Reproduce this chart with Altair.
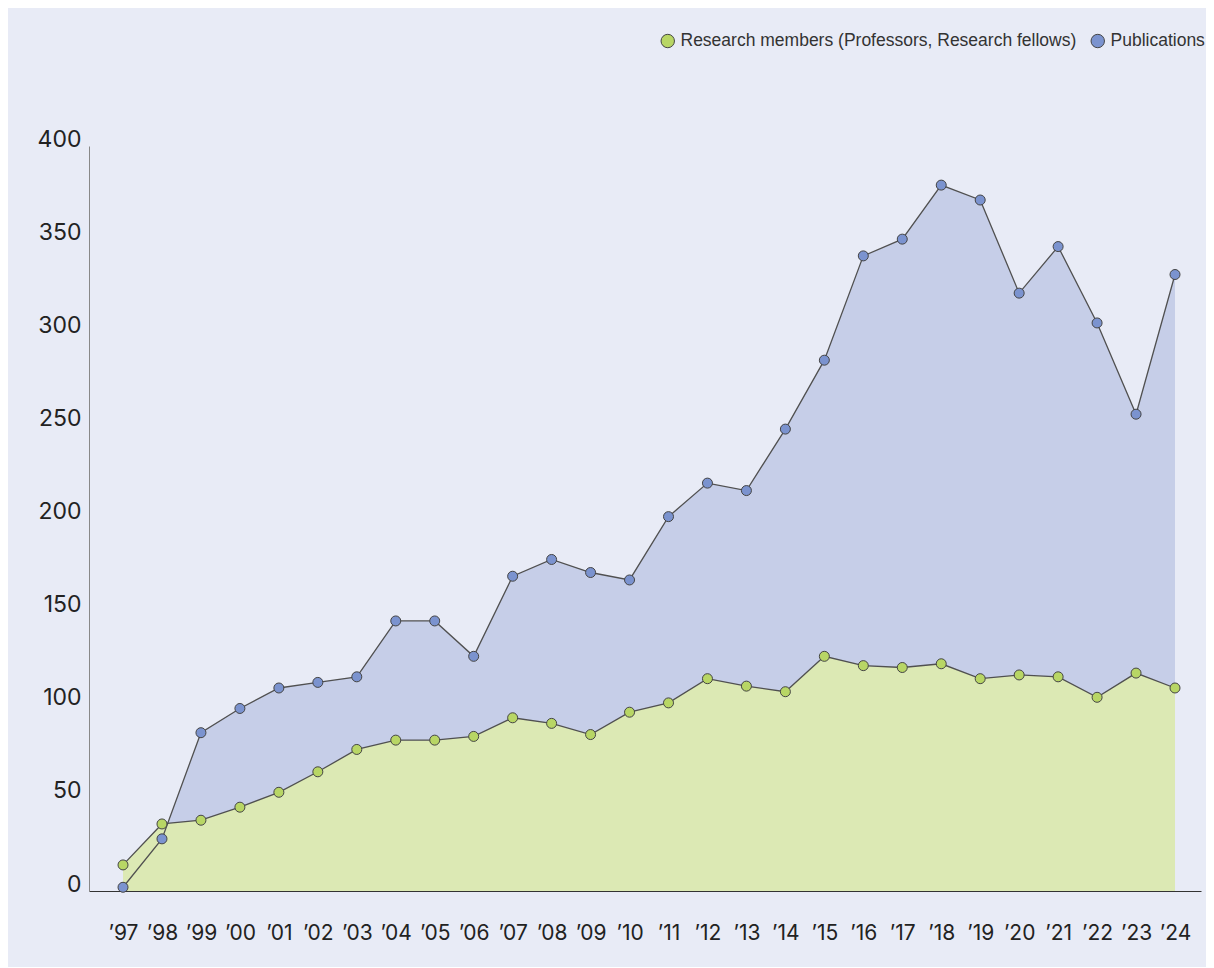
import altair as alt
import pandas as pd

years = [1997, 1998, 1999, 2000, 2001, 2002, 2003, 2004, 2005, 2006, 2007, 2008, 2009, 2010,
         2011, 2012, 2013, 2014, 2015, 2016, 2017, 2018, 2019, 2020, 2021, 2022, 2023, 2024]
year_labels = ["’97", "’98", "’99", "’00", "’01", "’02", "’03", "’04", "’05", "’06", "’07", "’08", "’09", "’10",
               "’11", "’12", "’13", "’14", "’15", "’16", "’17", "’18", "’19", "’20", "’21", "’22", "’23", "’24"]
publications = [2, 28, 85, 98, 109, 112, 115, 145, 145, 126, 169, 178, 171, 167,
                201, 219, 215, 248, 285, 341, 350, 379, 371, 321, 346, 305, 256, 331]
researchers = [14, 36, 38, 45, 53, 64, 76, 81, 81, 83, 93, 90, 84, 96,
               101, 114, 110, 107, 126, 121, 120, 122, 114, 116, 115, 104, 117, 109]
y_ticks = [0, 50, 100, 150, 200, 250, 300, 350, 400]

S_RES = "Research members (Professors, Research fellows)"
S_PUB = "Publications"

df = pd.concat([
    pd.DataFrame({"year": years, "value": researchers, "series": S_RES}),
    pd.DataFrame({"year": years, "value": publications, "series": S_PUB}),
])

label_js = "[" + ",".join("'" + l + "'" for l in year_labels) + "][datum.value - 1997]"

x_enc = alt.X("year:Q",
              scale=alt.Scale(domain=[1996.127, 2024.667], nice=False, zero=False),
              axis=alt.Axis(values=years, labelExpr=label_js, title=None, ticks=False, grid=False,
                            labelFont="Inter", labelFontSize=21, labelColor="#222",
                            labelPadding=31, domainColor="#333", domainWidth=1,
                            labelFlush=False, labelOverlap=False))
y_enc = alt.Y("value:Q",
              scale=alt.Scale(domain=[0, 400], nice=False),
              axis=alt.Axis(values=y_ticks, title=None, ticks=False, grid=False,
                            labelFont="Inter", labelFontSize=23, labelColor="#222",
                            labelPadding=8, labelOffset=-7, domainColor="#888", domainWidth=1,
                            labelFlush=False, labelOverlap=False))

base = alt.Chart(df)

area_pub = base.transform_filter(alt.datum.series == S_PUB).mark_area(
    color="#c6cee8", opacity=1).encode(x=x_enc, y=y_enc)
area_res = base.transform_filter(alt.datum.series == S_RES).mark_area(
    color="#dce9b4", opacity=1).encode(x=x_enc, y=y_enc)

lines = base.mark_line(color="#505050", strokeWidth=1.3).encode(
    x=x_enc, y=y_enc, detail="series:N")

points = base.mark_circle(size=100, opacity=1, stroke="#444", strokeWidth=1).encode(
    x=x_enc, y=y_enc,
    fill=alt.Fill("series:N",
                  scale=alt.Scale(domain=[S_RES, S_PUB], range=["#b8d665", "#7b93cf"]),
                  legend=alt.Legend(orient="none", legendX=570, legendY=-114,
                                    direction="horizontal", title=None,
                                    labelFont="Liberation Sans", labelFontSize=17.5,
                                    labelColor="#333", symbolType="circle", symbolSize=180,
                                    symbolStrokeColor="#444", symbolStrokeWidth=1,
                                    symbolOpacity=1, columnPadding=12, labelOffset=4,
                                    labelLimit=600)),
)

chart = alt.layer(area_pub, area_res, lines, points).properties(
    width=1112, height=745,
    autosize=alt.AutoSizeParams(type="none"),
    padding={"left": 81, "top": 138, "right": 5, "bottom": 76},
    background="#e8ebf6",
).configure_view(stroke=None)

chart.save("out.html", embed_options={"renderer": "svg", "actions": False})
